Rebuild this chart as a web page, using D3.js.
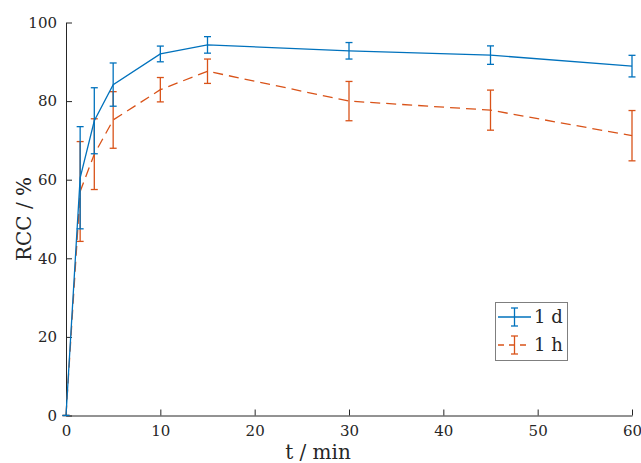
<!DOCTYPE html>
<html>
<head>
<meta charset="utf-8">
<script src="https://cdn.jsdelivr.net/npm/d3@7"></script>
<style>
body { margin: 0; background: #fff; }
text { font-family: "DejaVu Serif", serif; fill: #262626; }
</style>
</head>
<body>
<div id="chart"></div>
<script>
var times = [0, 1.5, 3, 5, 10, 15, 30, 45, 60];
// 1 d series
var dMean = [0, 60.5, 75, 84.2, 92, 94.3, 92.8, 91.7, 88.9];
var dErr  = [0, 13, 8.4, 5.5, 2, 2.1, 2.1, 2.35, 2.75];
// 1 h series
var hMean = [0, 57, 66.5, 75.2, 82.9, 87.6, 80, 77.7, 71.2];
var hErr  = [0, 12.7, 9, 7.2, 3.1, 3.1, 5, 5.1, 6.4];
var xTicks = [0, 10, 20, 30, 40, 50, 60];
var yTicks = [0, 20, 40, 60, 80, 100];
var names = ["1 d", "1 h"];
var colors = ["#0072BD", "#D95319"];

var W = 641, H = 463;
var svg = d3.select("#chart").append("svg")
	.attr("width", W)
	.attr("height", H);

var x = d3.scaleLinear().domain([0, 60]).range([66, 632]);
var y = d3.scaleLinear().domain([0, 100]).range([415.5, 22.5]);

/* axes */
var xAxis = svg.append("g")
	.attr("transform", "translate(0,415.5)")
	.call(d3.axisBottom(x).tickValues(xTicks).tickSizeInner(-6).tickSizeOuter(0).tickPadding(10));
var yAxis = svg.append("g")
	.attr("transform", "translate(66,0)")
	.call(d3.axisLeft(y).tickValues(yTicks).tickSizeInner(-6).tickSizeOuter(0).tickPadding(9));

[xAxis, yAxis].forEach(function(a){
	a.select(".domain").attr("stroke", "#262626").attr("stroke-width", 1);
	a.selectAll(".tick line").attr("stroke", "#262626");
	a.selectAll(".tick text").attr("font-size", 15).attr("font-family", "DejaVu Serif").attr("fill", "#262626");
});

svg.append("text")
	.attr("x", 318)
	.attr("y", 459)
	.attr("text-anchor", "middle")
	.attr("font-size", 20)
	.text("t / min");

svg.append("text")
	.attr("transform", "translate(31,219) rotate(-90)")
	.attr("text-anchor", "middle")
	.attr("font-size", 20)
	.text("RCC / %");

/* series */
var series = [
	{mean: dMean, err: dErr, dash: null},
	{mean: hMean, err: hErr, dash: "10,6"}
];

var line = d3.line()
	.x(function(d){ return x(d[0]); })
	.y(function(d){ return y(d[1]); });

var cap = 3.5;
for (var s = series.length - 1; s >= 0; s--){
	var ser = series[s];
	var pts = times.map(function(t, i){ return [t, ser.mean[i], ser.err[i]]; });
	var g = svg.append("g");
	g.append("path")
		.attr("d", line(pts))
		.attr("fill", "none")
		.attr("stroke", colors[s])
		.attr("stroke-width", 1.3)
		.attr("stroke-dasharray", ser.dash);
	pts.forEach(function(p){
		var px = x(p[0]), top = y(p[1] + p[2]), bot = y(p[1] - p[2]);
		g.append("line")
			.attr("x1", px).attr("x2", px).attr("y1", top).attr("y2", bot)
			.attr("stroke", colors[s]).attr("stroke-width", 1.3);
		[top, bot].forEach(function(yy){
			g.append("line")
				.attr("x1", px - cap).attr("x2", px + cap).attr("y1", yy).attr("y2", yy)
				.attr("stroke", colors[s]).attr("stroke-width", 1.3);
		});
	});
}

/* legend */
var leg = svg.append("g");
leg.append("rect")
	.attr("x", 495.5).attr("y", 302.5)
	.attr("width", 72).attr("height", 58)
	.attr("fill", "#fff")
	.attr("stroke", "#7f7f7f")
	.attr("stroke-width", 1);

names.forEach(function(n, i){
	var ly = 317 + i * 28;
	leg.append("line")
		.attr("x1", 498).attr("x2", 531).attr("y1", ly).attr("y2", ly)
		.attr("stroke", colors[i]).attr("stroke-width", 1.3)
		.attr("stroke-dasharray", i == 1 ? "6,5" : null);
	leg.append("line")
		.attr("x1", 514.5).attr("x2", 514.5).attr("y1", ly - 9).attr("y2", ly + 9)
		.attr("stroke", colors[i]).attr("stroke-width", 1.3);
	[ly - 9, ly + 9].forEach(function(yy){
		leg.append("line")
			.attr("x1", 514.5 - cap).attr("x2", 514.5 + cap).attr("y1", yy).attr("y2", yy)
			.attr("stroke", colors[i]).attr("stroke-width", 1.3);
	});
	leg.append("text")
		.attr("x", 534)
		.attr("y", ly + 6)
		.attr("font-size", 18)
		.text(n);
});
</script>
</body>
</html>
